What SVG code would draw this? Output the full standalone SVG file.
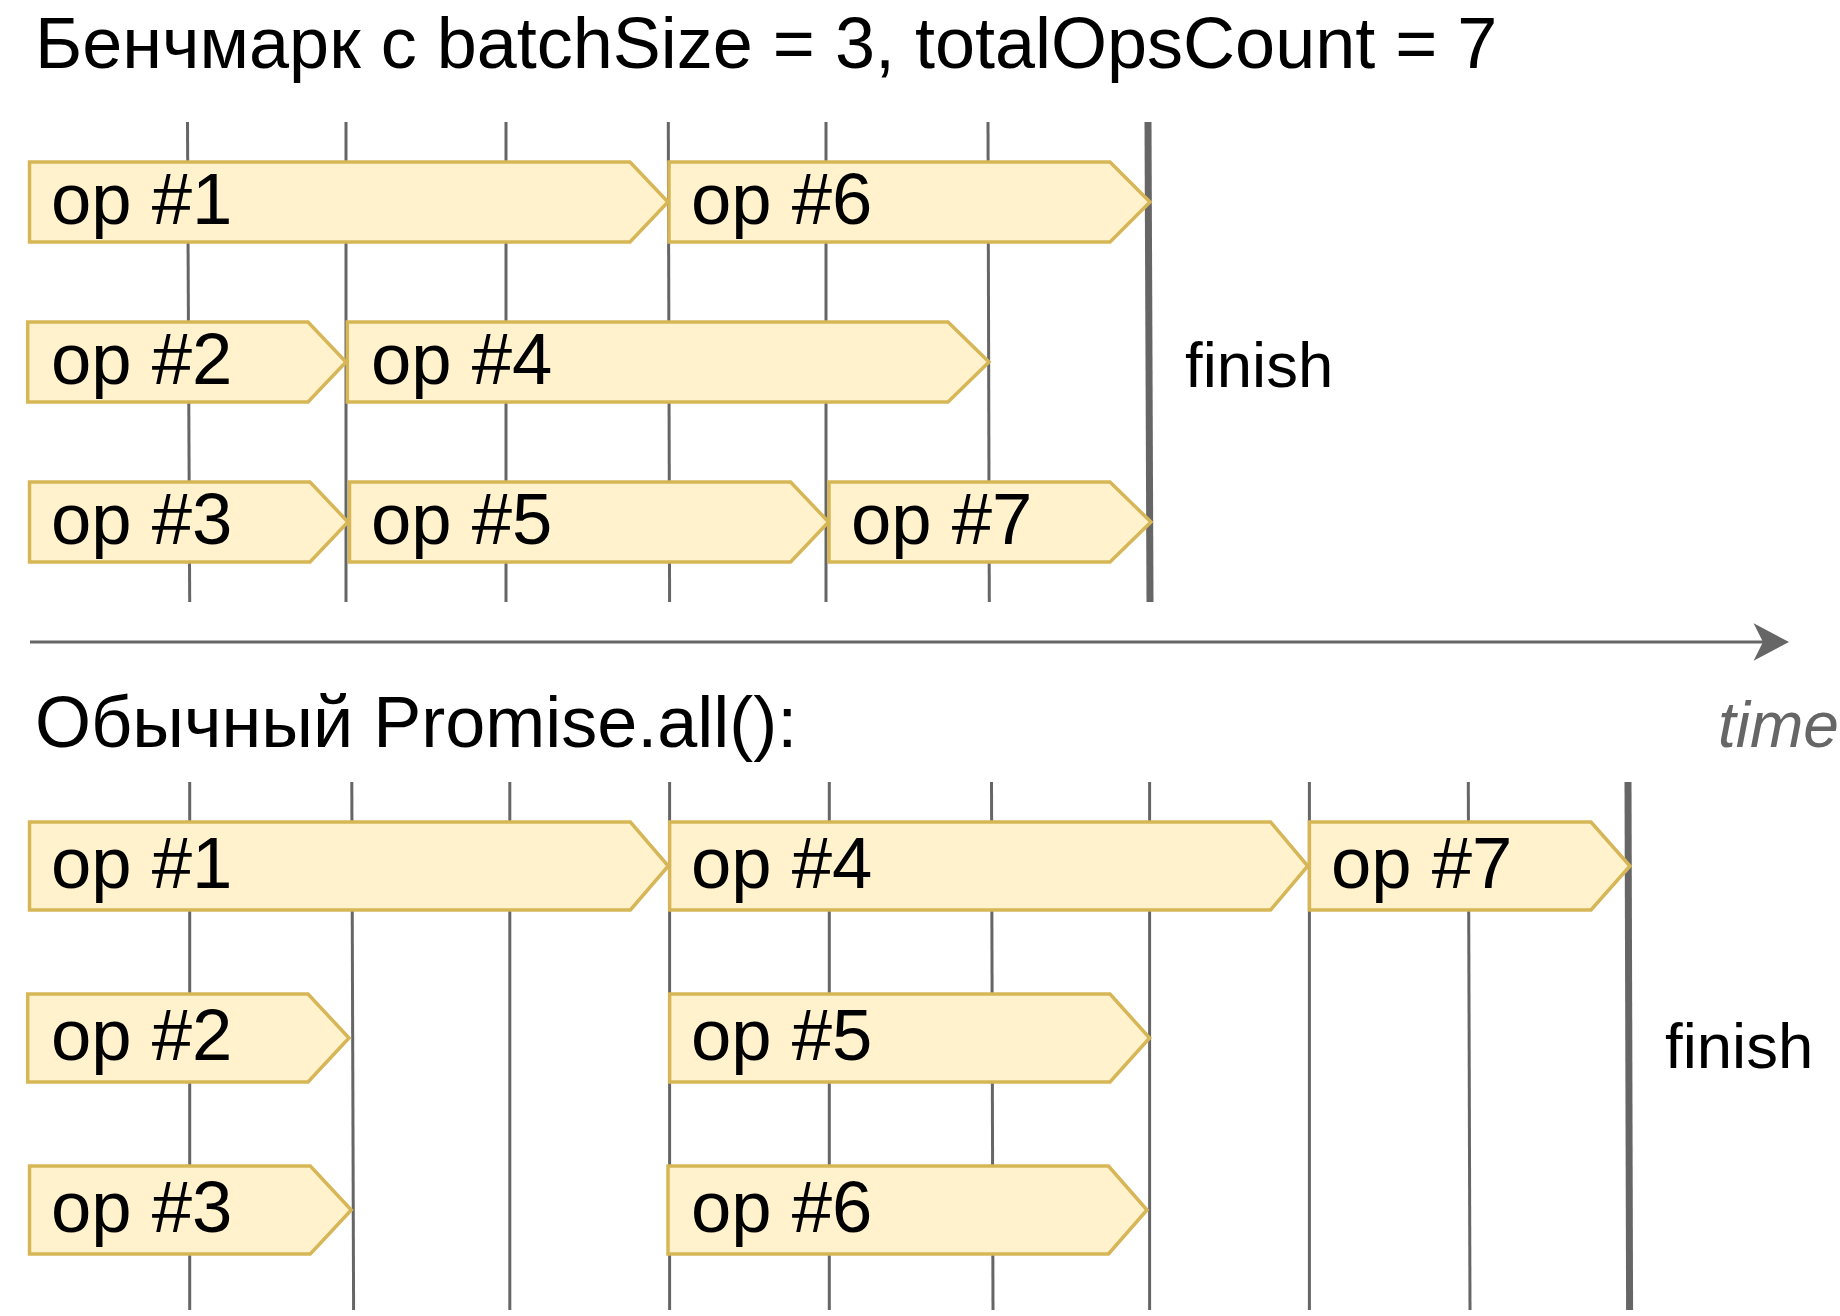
<svg xmlns="http://www.w3.org/2000/svg" width="1840" height="1316" viewBox="0 0 1840 1316">
<defs>
<style>
.bg{fill:#ffffff}
.grid line{stroke:#666666;stroke-width:3;fill:none}
.grid line.end{stroke-width:7}
.op polygon{fill:#fff2cc;stroke:#d6b656;stroke-width:3.5;stroke-linejoin:miter}
.op text,.lbl{font-family:"Liberation Sans",Arial,sans-serif;fill:#000000}
.op text{font-size:72.5px}
.title{font-size:72px}
.fin{font-size:63.5px}
.time{font-family:"Liberation Sans",Arial,sans-serif;font-size:64px;font-style:italic;fill:#666666}
.axis{stroke:#666666;stroke-width:3;fill:none}
.head{fill:#666666;stroke:none}
</style>
</defs>
<rect class="bg" x="0" y="0" width="1840" height="1316"/>

<g id="title-top"><text class="lbl title" x="35" y="68">Бенчмарк с batchSize = 3, totalOpsCount = 7</text></g>
<g id="title-bottom"><text class="lbl title" x="35" y="747">Обычный Promise.all():</text></g>

<g id="grid-top" class="grid">
<line x1="187.5" y1="122" x2="189.7" y2="602"/>
<line x1="346" y1="122" x2="346" y2="602"/>
<line x1="506" y1="122" x2="506" y2="602"/>
<line x1="668.3" y1="122" x2="669.6" y2="602"/>
<line x1="826" y1="122" x2="826" y2="602"/>
<line x1="988" y1="122" x2="989.3" y2="602"/>
<line class="end" x1="1148" y1="122" x2="1150" y2="602"/>
</g>

<g id="grid-bottom" class="grid">
<line x1="189.7" y1="782" x2="189.7" y2="1310"/>
<line x1="351.8" y1="782" x2="353.6" y2="1310"/>
<line x1="509.8" y1="782" x2="509.8" y2="1310"/>
<line x1="669.6" y1="782" x2="669.6" y2="1310"/>
<line x1="829.3" y1="782" x2="829.3" y2="1310"/>
<line x1="991.5" y1="782" x2="993" y2="1310"/>
<line x1="1149.6" y1="782" x2="1149.6" y2="1310"/>
<line x1="1309.4" y1="782" x2="1309.4" y2="1310"/>
<line x1="1468.3" y1="782" x2="1470" y2="1310"/>
<line class="end" x1="1628" y1="782" x2="1629.6" y2="1310"/>
</g>

<g id="top-op1" class="op"><polygon points="29.5,162 630,162 668,202 630,242 29.5,242"/><text x="51" y="224">op #1</text></g>
<g id="top-op6" class="op"><polygon points="669,162 1110,162 1150,202 1110,242 669,242"/><text x="691" y="224">op #6</text></g>
<g id="top-op2" class="op"><polygon points="27.7,322 308,322 346,362 308,402 27.7,402"/><text x="51" y="384">op #2</text></g>
<g id="top-op4" class="op"><polygon points="347.3,322 948,322 989,362 948,402 347.3,402"/><text x="371" y="384">op #4</text></g>
<g id="top-op3" class="op"><polygon points="29.5,482 310,482 348,522 310,562 29.5,562"/><text x="51" y="544">op #3</text></g>
<g id="top-op5" class="op"><polygon points="349.5,482 790.6,482 828.6,522 790.6,562 349.5,562"/><text x="371" y="544">op #5</text></g>
<g id="top-op7" class="op"><polygon points="829,482 1110,482 1151,522 1110,562 829,562"/><text x="851" y="544">op #7</text></g>
<g id="top-finish"><text class="lbl fin" x="1185" y="387">finish</text></g>

<g id="bot-op1" class="op"><polygon points="29.5,822 630.4,822 668.3,866 630.4,910 29.5,910"/><text x="51" y="888">op #1</text></g>
<g id="bot-op4" class="op"><polygon points="669.6,822 1270.6,822 1307.8,866 1270.6,910 669.6,910"/><text x="691" y="888">op #4</text></g>
<g id="bot-op7" class="op"><polygon points="1309.4,822 1591,822 1630,866 1591,910 1309.4,910"/><text x="1331" y="888">op #7</text></g>
<g id="bot-op2" class="op"><polygon points="27.7,994 308,994 349,1038 308,1082 27.7,1082"/><text x="51" y="1060">op #2</text></g>
<g id="bot-op5" class="op"><polygon points="669.6,994 1110,994 1149.6,1038 1110,1082 669.6,1082"/><text x="691" y="1060">op #5</text></g>
<g id="bot-op3" class="op"><polygon points="29.5,1166 310.3,1166 351.3,1210 310.3,1254 29.5,1254"/><text x="51" y="1232">op #3</text></g>
<g id="bot-op6" class="op"><polygon points="668,1166 1108.5,1166 1147,1210 1108.5,1254 668,1254"/><text x="691" y="1232">op #6</text></g>
<g id="bot-finish"><text class="lbl fin" x="1665" y="1068">finish</text></g>

<g id="connectors">
<line class="axis" x1="30" y1="642" x2="1764" y2="642"/>
<path class="head" d="M1789,642 L1753.6,623.3 L1763,642 L1753.6,660.7 Z"/>
</g>
<g id="time-label"><text class="time" x="1718" y="747">time</text></g>
</svg>
